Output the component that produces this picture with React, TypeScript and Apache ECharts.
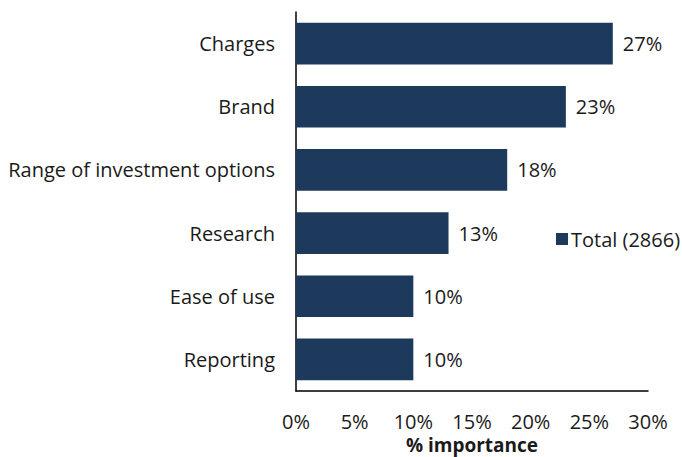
import React, { useEffect, useRef } from "react";
import * as echarts from "echarts";

const categories = ["Charges", "Brand", "Range of investment options", "Research", "Ease of use", "Reporting"];
const values = [27, 23, 18, 13, 10, 10];
const seriesName = "Total (2866)";
const xTicks = [0, 5, 10, 15, 20, 25, 30];

const FONT = "'Open Sans', Lato, sans-serif";
const FS = 20;
const TEXT = "#1a1a1a";
const BAR = "#1d3a5c";

export default function App() {
  const ref = useRef<HTMLDivElement>(null);
  useEffect(() => {
    const chart = echarts.init(ref.current!, null, { renderer: "svg" });
    chart.setOption({
      animation: false,
      textStyle: { fontFamily: FONT },
      grid: { left: 296, right: 34, top: 12, bottom: 66, containLabel: false, outerBoundsMode: "none" },
      legend: {
        data: [seriesName],
        left: 551,
        top: 224,
        itemWidth: 12,
        itemHeight: 12,
        itemGap: 4,
        icon: "rect",
        textStyle: { fontFamily: FONT, fontSize: FS, color: TEXT, padding: [0, 0, 0, -2] },
      },
      xAxis: {
        type: "value",
        min: xTicks[0],
        max: xTicks[xTicks.length - 1],
        interval: 5,
        name: "% importance",
        nameLocation: "middle",
        nameGap: 44,
        nameMoveOverlap: false,
        nameTextStyle: { fontFamily: FONT, fontSize: 19, fontWeight: "bold", color: TEXT, lineHeight: 20 },
        axisLine: { show: true, lineStyle: { color: "#000", width: 1.5 } },
        axisTick: { show: false },
        splitLine: { show: false },
        axisLabel: { formatter: "{value}%", fontFamily: FONT, fontSize: FS, color: TEXT, margin: 19, lineHeight: 22 },
      },
      yAxis: {
        type: "category",
        data: categories,
        inverse: true,
        axisLine: { show: true, lineStyle: { color: "#000", width: 1.5 } },
        axisTick: { show: false },
        axisLabel: { fontFamily: FONT, fontSize: FS, color: TEXT, margin: 21 },
      },
      series: [
        {
          name: seriesName,
          type: "bar",
          data: values,
          barCategoryGap: "34%",
          itemStyle: { color: BAR },
          label: {
            show: true,
            position: "right",
            distance: 10,
            formatter: "{c}%",
            fontFamily: FONT,
            fontSize: FS,
            color: TEXT,
          },
        },
      ],
    });
    return () => chart.dispose();
  }, []);
  return <div ref={ref} style={{ width: 682, height: 457, position: "absolute", left: 0, top: 0 }} />;
}
